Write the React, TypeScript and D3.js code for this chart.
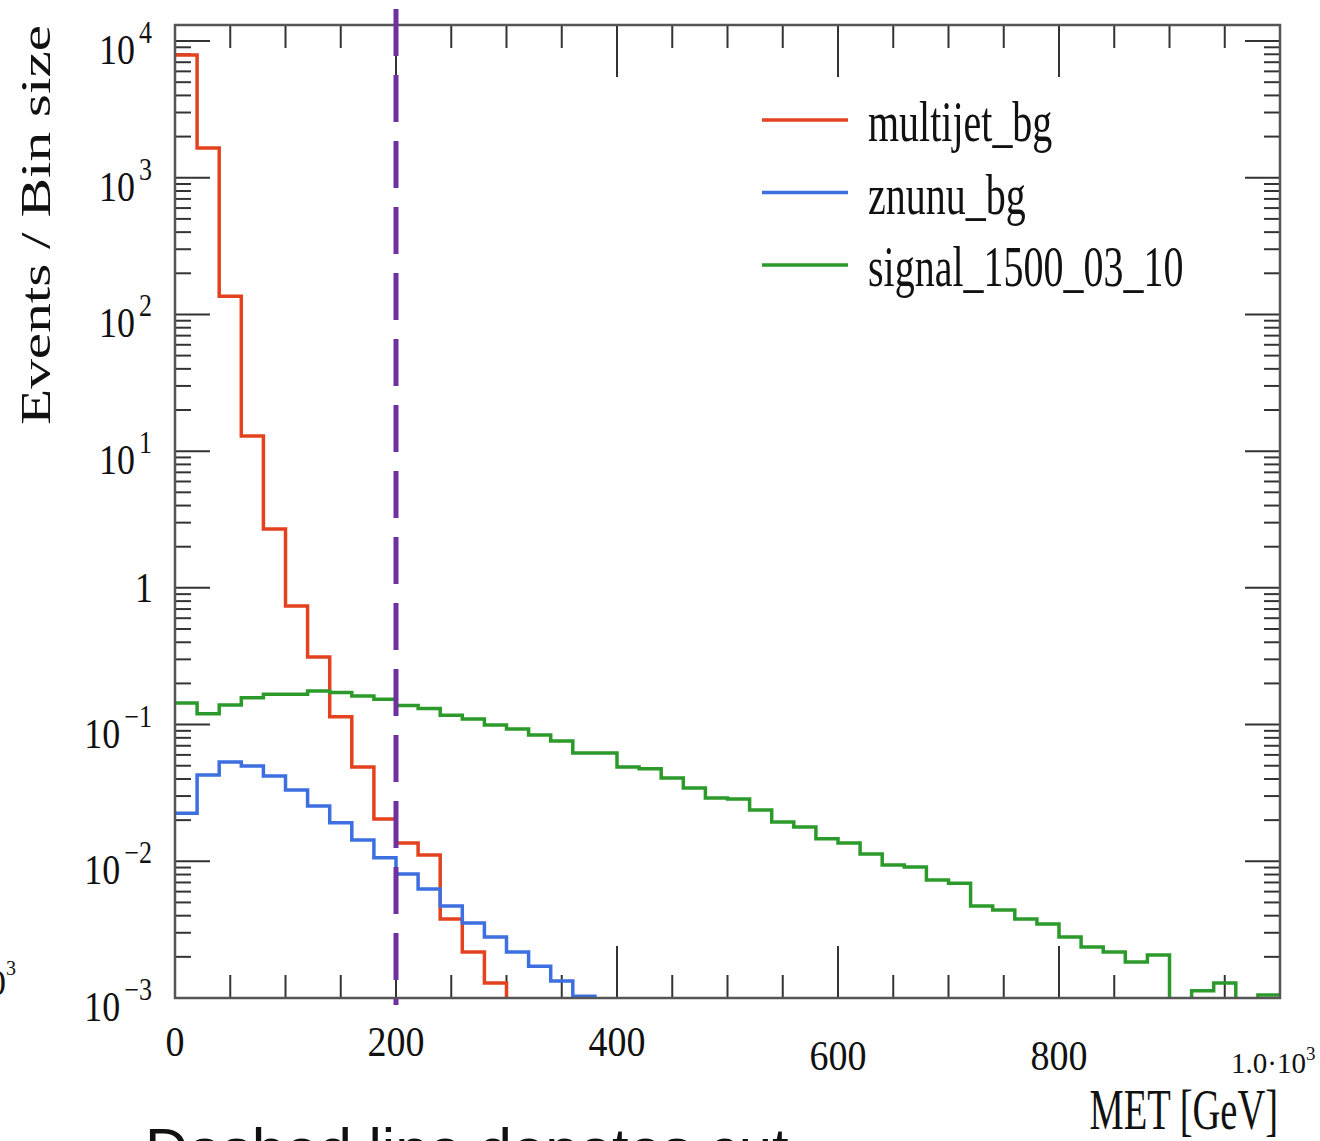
import React from "react";
import * as d3 from "d3";

// MET distributions, 20 GeV bins from 0 to 1000 GeV (values per bin, missing = empty bin)
const binEdges = d3.range(0, 1001, 20);

const multijet = [
  7900, 1650, 136, 12.9, 2.7, 0.738, 0.312, 0.114, 0.049, 0.0204,
  0.0136, 0.0111, 0.00379, 0.00217, 0.00129,
];

const znunu = [
  0.0225, 0.0428, 0.0532, 0.0498, 0.0421, 0.0332, 0.0254, 0.0191, 0.0143, 0.0106,
  0.00808, 0.00627, 0.00471, 0.00354, 0.00279, 0.00217, 0.00171, 0.00133, 0.00103,
];

const signal = [
  0.144, 0.12, 0.139, 0.157, 0.167, 0.167, 0.176, 0.172, 0.162, 0.153,
  0.138, 0.131, 0.117, 0.11, 0.0993, 0.0929, 0.0839, 0.0759, 0.062, 0.062,
  0.049, 0.0475, 0.0407, 0.0344, 0.029, 0.0285, 0.0237, 0.0194, 0.0178, 0.0146,
  0.0136, 0.0113, 0.0094, 0.0091, 0.0073, 0.0069, 0.00471, 0.00441, 0.00379, 0.00348,
  0.00279, 0.00236, 0.00217, 0.00183, 0.00206, 0, 0.00113, 0.00129, 0, 0.00105,
];

const seriesNames = ["multijet_bg", "znunu_bg", "signal_1500_03_10"];
const seriesColors = ["#e4421f", "#3d6fe0", "#2b9a2b"];

const xTickValues = [0, 200, 400, 600, 800];
const xTickLabels = ["0", "200", "400", "600", "800"];
const xEndLabel = "1.0·10";
const xEndExp = "3";

const yTickValues = [1e-3, 1e-2, 1e-1, 1, 10, 100, 1e3, 1e4];
const yTickExps = ["−3", "−2", "−1", "", "1", "2", "3", "4"];

const cutValue = 200;
const xTitle = "MET [GeV]";
const yTitle = "Events / Bin size";
const note = "Dashed line denotes cut";

const W = 1320;
const H = 1141;
const left = 175;
const right = 1280;
const top = 25;
const bottom = 998;
const serif = "'Liberation Serif', 'Times New Roman', serif";

const x = d3.scaleLinear().domain([0, 1000]).range([left, right]);
const y = d3.scaleLog().domain([1e-3, 1.31e4]).range([bottom, top]);

function histPath(vals: number[]) {
  const yy = (v: number) => (v > 0 ? y(v) : bottom + 30);
  let d = `M${x(binEdges[0])},${yy(vals[0] || 0)}`;
  for (let i = 0; i < binEdges.length - 1; i++) {
    const v = vals[i] || 0;
    if (i > 0) d += `V${yy(v)}`;
    d += `H${x(binEdges[i + 1])}`;
  }
  return d;
}

const SText = ({ x, y, sy, size, anchor, children, family }: any) => (
  <g transform={`translate(${x},${y}) scale(1,${sy})`}>
    <text x={0} y={0} fontSize={size} textAnchor={anchor || "start"} fontFamily={family || serif} fill="#111">
      {children}
    </text>
  </g>
);

export default function App() {
  const series = [multijet, znunu, signal];
  const xMinor = d3.range(0, 1001, 50).filter((v) => v % 200 !== 0);
  const xMajor = d3.range(0, 1001, 200);
  const yAll = y.ticks();
  const yMinor = yAll.filter((v) => Math.abs(Math.log10(v) - Math.round(Math.log10(v))) > 1e-6);
  const tick = "#333";

  return (
    <svg width={W} height={H} style={{ position: "absolute", left: 0, top: 0, background: "#fff" }}>
      <defs>
        <clipPath id="plot">
          <rect x={left} y={top} width={right - left} height={bottom - top} />
        </clipPath>
      </defs>

      {/* ticks */}
      <g stroke={tick} strokeWidth={2}>
        {xMinor.map((v) => (
          <g key={"xm" + v}>
            <line x1={x(v)} x2={x(v)} y1={bottom} y2={bottom - 23} />
            <line x1={x(v)} x2={x(v)} y1={top} y2={top + 23} />
          </g>
        ))}
        {xMajor.map((v) => (
          <g key={"xM" + v}>
            <line x1={x(v)} x2={x(v)} y1={bottom} y2={bottom - 52} />
            <line x1={x(v)} x2={x(v)} y1={top} y2={top + 52} />
          </g>
        ))}
        {yMinor.map((v) => (
          <g key={"ym" + v}>
            <line x1={left} x2={left + 16} y1={y(v)} y2={y(v)} />
            <line x1={right} x2={right - 16} y1={y(v)} y2={y(v)} />
          </g>
        ))}
        {yTickValues.map((v) => (
          <g key={"yM" + v}>
            <line x1={left} x2={left + 35} y1={y(v)} y2={y(v)} />
            <line x1={right} x2={right - 35} y1={y(v)} y2={y(v)} />
          </g>
        ))}
      </g>

      {/* histograms */}
      <g clipPath="url(#plot)" fill="none" strokeWidth={3.5}>
        {series.map((s, i) => (
          <path key={seriesNames[i]} d={histPath(s)} stroke={seriesColors[i]} />
        ))}
      </g>

      {/* frame */}
      <rect x={left} y={top} width={right - left} height={bottom - top} fill="none" stroke="#555" strokeWidth={2.5} />

      {/* cut line */}
      <line x1={x(cutValue)} x2={x(cutValue)} y1={9} y2={1005} stroke="#7030a0" strokeWidth={5} strokeDasharray="47 19" />

      {/* y tick labels */}
      {yTickValues.map((v, i) =>
        yTickExps[i] === "" ? (
          <SText key={"yl" + v} x={153} y={y(v) + 14} sy={1.2} size={36} anchor="end">1</SText>
        ) : (
          <g key={"yl" + v} transform={`translate(152,${y(v)}) scale(1,1.2)`}>
            <text y={23 / 1.2} fontSize={36} textAnchor="end" fontFamily={serif} fill="#111">
              <tspan>10</tspan>
              <tspan dx={4} dy={-21 / 1.2} fontSize={26}>{yTickExps[i]}</tspan>
            </text>
          </g>
        )
      )}

      {/* x tick labels */}
      {xTickValues.map((v, i) => (
        <SText key={"xl" + v} x={x(v)} y={v >= 600 ? 1070 : 1056} sy={1.1} size={38} anchor="middle">
          {xTickLabels[i]}
        </SText>
      ))}
      <text x={1231} y={1073} fontSize={29} fontFamily={serif} fill="#111">
        <tspan>{xEndLabel}</tspan>
        <tspan dy={-13} fontSize={19}>{xEndExp}</tspan>
      </text>

      {/* axis titles */}
      <SText x={1278} y={1129} sy={1.5} size={38.5} anchor="end">{xTitle}</SText>
      <text
        transform="translate(50,425) rotate(-90)"
        fontSize={42}
        fontFamily={serif}
        fill="#111"
        textLength={400}
        lengthAdjust="spacingAndGlyphs"
      >
        {yTitle}
      </text>

      {/* legend */}
      {seriesNames.map((name, i) => {
        const ly = 120 + i * 72.5;
        return (
          <g key={"lg" + name}>
            <line x1={762} x2={848} y1={ly} y2={ly} stroke={seriesColors[i]} strokeWidth={3.5} />
            <SText x={868} y={ly + 21} sy={1.45} size={40}>{name}</SText>
          </g>
        );
      })}

      {/* fragments of the surrounding slide */}
      <text x={6} y={995} fontSize={36} textAnchor="end" fontFamily={serif} fill="#111">10</text>
      <text x={6} y={975} fontSize={20} fontFamily={serif} fill="#111">3</text>
      <text x={145} y={1170} fontSize={60} fontFamily="'Liberation Sans', Arial, sans-serif" fill="#111">
        {note}
      </text>
    </svg>
  );
}
